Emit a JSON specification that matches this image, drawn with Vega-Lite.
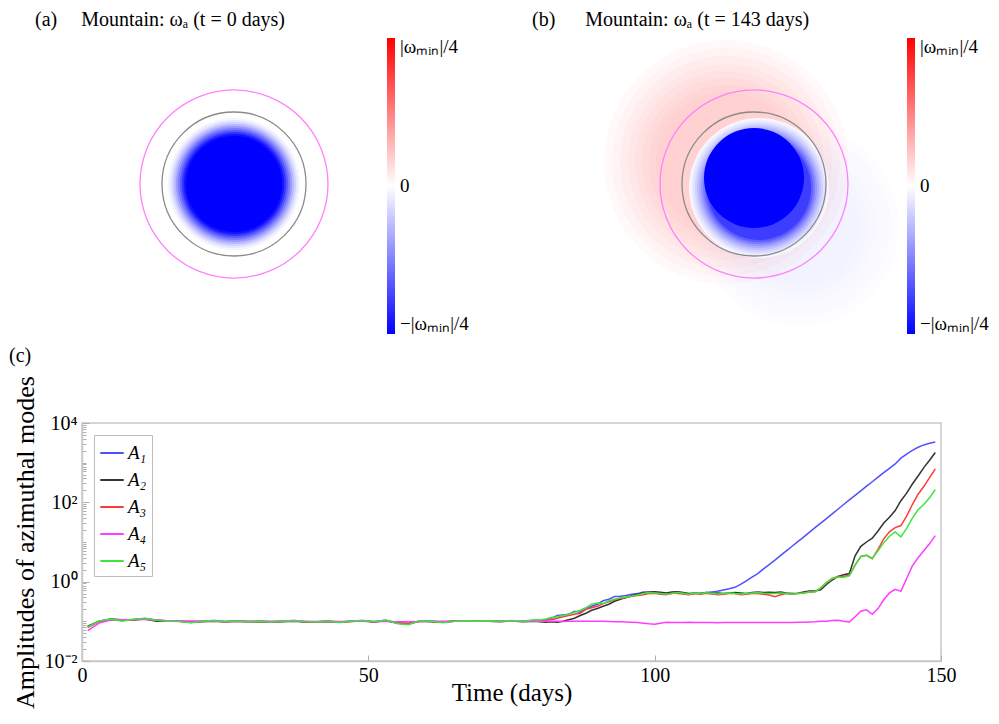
{
  "$schema": "https://vega.github.io/schema/vega-lite/v6.json",
  "background": "white",
  "padding": {"left": 8, "top": 10, "right": 5, "bottom": 5},
  "config": {
    "font": "Liberation Serif",
    "view": {"stroke": "#c8c8c8", "strokeWidth": 1.5},
    "title": {"fontSize": 20, "fontWeight": "normal", "anchor": "start", "frame": "group", "offset": 8, "color": "black", "font": "Liberation Serif"},
    "axis": {"labelFont": "Liberation Serif", "titleFont": "Liberation Serif", "labelColor": "black", "titleColor": "black", "domainColor": "#c8c8c8", "domainWidth": 1.5, "tickColor": "#b0b0b0", "grid": false, "titleFontWeight": "normal"},
    "legend": {"labelFont": "Liberation Serif", "labelColor": "black"}
  },
  "datasets": {
    "diskA": [
      {"x": 0, "y": 0, "r": 66, "vorticity": -0.04},
      {"x": 0, "y": 0, "r": 64, "vorticity": -0.1},
      {"x": 0, "y": 0, "r": 62, "vorticity": -0.18},
      {"x": 0, "y": 0, "r": 60, "vorticity": -0.28},
      {"x": 0, "y": 0, "r": 58, "vorticity": -0.4},
      {"x": 0, "y": 0, "r": 56, "vorticity": -0.52},
      {"x": 0, "y": 0, "r": 54, "vorticity": -0.65},
      {"x": 0, "y": 0, "r": 52, "vorticity": -0.8},
      {"x": 0, "y": 0, "r": 50, "vorticity": -0.93},
      {"x": 0, "y": 0, "r": 48, "vorticity": -1.0}
    ],
    "haloB": [
      {"x": -28, "y": 22, "r": 122, "vorticity": 0.8},
      {"x": -28, "y": 22, "r": 114, "vorticity": 0.8},
      {"x": -28, "y": 22, "r": 106, "vorticity": 0.8},
      {"x": -28, "y": 22, "r": 98, "vorticity": 0.8},
      {"x": -28, "y": 22, "r": 91, "vorticity": 0.8},
      {"x": -28, "y": 22, "r": 84, "vorticity": 0.8},
      {"x": -28, "y": 22, "r": 77, "vorticity": 0.8},
      {"x": -28, "y": 22, "r": 70, "vorticity": 0.8},
      {"x": 45, "y": -42, "r": 100, "vorticity": -0.35},
      {"x": 45, "y": -42, "r": 92, "vorticity": -0.35},
      {"x": 45, "y": -42, "r": 84, "vorticity": -0.35},
      {"x": 45, "y": -42, "r": 76, "vorticity": -0.35},
      {"x": 45, "y": -42, "r": 68, "vorticity": -0.35},
      {"x": 45, "y": -42, "r": 60, "vorticity": -0.35}
    ],
    "diskB": [
      {"x": 5, "y": -4, "r": 70, "vorticity": -0.03},
      {"x": 5, "y": -4, "r": 68, "vorticity": -0.07},
      {"x": 5, "y": -4, "r": 66, "vorticity": -0.12},
      {"x": 5, "y": -4, "r": 64, "vorticity": -0.18},
      {"x": 5, "y": -4, "r": 62, "vorticity": -0.25},
      {"x": 5, "y": -4, "r": 60, "vorticity": -0.33},
      {"x": 5, "y": -4, "r": 58, "vorticity": -0.42},
      {"x": 5, "y": -4, "r": 56, "vorticity": -0.52},
      {"x": 5, "y": -4, "r": 54, "vorticity": -0.63},
      {"x": 5, "y": -4, "r": 52, "vorticity": -0.76},
      {"x": 0, "y": 6, "r": 50, "vorticity": -1.0}
    ],
    "contours": [
      {"contour": "inner", "x": 0, "y": 0, "r": 72},
      {"contour": "outer", "x": 0, "y": 0, "r": 94}
    ],
    "modes": [
      {"t": 1, "A1": 0.072, "A2": 0.075, "A3": 0.07, "A4": 0.058, "A5": 0.072},
      {"t": 3, "A1": 0.1, "A2": 0.1, "A3": 0.098, "A4": 0.09, "A5": 0.102},
      {"t": 5, "A1": 0.112, "A2": 0.114, "A3": 0.11, "A4": 0.108, "A5": 0.115},
      {"t": 7, "A1": 0.108, "A2": 0.11, "A3": 0.107, "A4": 0.11, "A5": 0.1},
      {"t": 9, "A1": 0.112, "A2": 0.108, "A3": 0.11, "A4": 0.112, "A5": 0.113},
      {"t": 11, "A1": 0.118, "A2": 0.115, "A3": 0.116, "A4": 0.112, "A5": 0.12},
      {"t": 13, "A1": 0.108, "A2": 0.1, "A3": 0.106, "A4": 0.108, "A5": 0.107},
      {"t": 15, "A1": 0.102, "A2": 0.1, "A3": 0.102, "A4": 0.104, "A5": 0.101},
      {"t": 17, "A1": 0.1, "A2": 0.101, "A3": 0.1, "A4": 0.103, "A5": 0.099},
      {"t": 19, "A1": 0.094, "A2": 0.096, "A3": 0.095, "A4": 0.102, "A5": 0.092},
      {"t": 21, "A1": 0.1, "A2": 0.098, "A3": 0.1, "A4": 0.102, "A5": 0.099},
      {"t": 23, "A1": 0.103, "A2": 0.1, "A3": 0.102, "A4": 0.101, "A5": 0.106},
      {"t": 25, "A1": 0.098, "A2": 0.097, "A3": 0.098, "A4": 0.1, "A5": 0.097},
      {"t": 27, "A1": 0.102, "A2": 0.1, "A3": 0.101, "A4": 0.1, "A5": 0.104},
      {"t": 29, "A1": 0.097, "A2": 0.099, "A3": 0.098, "A4": 0.1, "A5": 0.096},
      {"t": 31, "A1": 0.1, "A2": 0.097, "A3": 0.1, "A4": 0.101, "A5": 0.101},
      {"t": 33, "A1": 0.097, "A2": 0.096, "A3": 0.097, "A4": 0.1, "A5": 0.095},
      {"t": 35, "A1": 0.1, "A2": 0.097, "A3": 0.1, "A4": 0.1, "A5": 0.101},
      {"t": 37, "A1": 0.104, "A2": 0.1, "A3": 0.103, "A4": 0.102, "A5": 0.106},
      {"t": 39, "A1": 0.098, "A2": 0.096, "A3": 0.098, "A4": 0.1, "A5": 0.097},
      {"t": 41, "A1": 0.097, "A2": 0.098, "A3": 0.097, "A4": 0.099, "A5": 0.096},
      {"t": 43, "A1": 0.1, "A2": 0.099, "A3": 0.1, "A4": 0.1, "A5": 0.101},
      {"t": 45, "A1": 0.095, "A2": 0.096, "A3": 0.096, "A4": 0.099, "A5": 0.094},
      {"t": 47, "A1": 0.1, "A2": 0.099, "A3": 0.1, "A4": 0.1, "A5": 0.101},
      {"t": 49, "A1": 0.104, "A2": 0.102, "A3": 0.103, "A4": 0.1, "A5": 0.106},
      {"t": 51, "A1": 0.098, "A2": 0.096, "A3": 0.098, "A4": 0.099, "A5": 0.097},
      {"t": 53, "A1": 0.106, "A2": 0.104, "A3": 0.105, "A4": 0.1, "A5": 0.108},
      {"t": 55, "A1": 0.09, "A2": 0.092, "A3": 0.092, "A4": 0.098, "A5": 0.088},
      {"t": 57, "A1": 0.085, "A2": 0.088, "A3": 0.088, "A4": 0.097, "A5": 0.082},
      {"t": 59, "A1": 0.102, "A2": 0.1, "A3": 0.101, "A4": 0.099, "A5": 0.104},
      {"t": 61, "A1": 0.1, "A2": 0.098, "A3": 0.1, "A4": 0.1, "A5": 0.1},
      {"t": 63, "A1": 0.095, "A2": 0.096, "A3": 0.095, "A4": 0.1, "A5": 0.092},
      {"t": 65, "A1": 0.1, "A2": 0.102, "A3": 0.1, "A4": 0.1, "A5": 0.101},
      {"t": 67, "A1": 0.104, "A2": 0.103, "A3": 0.103, "A4": 0.1, "A5": 0.104},
      {"t": 69, "A1": 0.1, "A2": 0.1, "A3": 0.1, "A4": 0.101, "A5": 0.102},
      {"t": 71, "A1": 0.102, "A2": 0.101, "A3": 0.102, "A4": 0.1, "A5": 0.104},
      {"t": 73, "A1": 0.1, "A2": 0.098, "A3": 0.1, "A4": 0.1, "A5": 0.101},
      {"t": 75, "A1": 0.104, "A2": 0.102, "A3": 0.104, "A4": 0.101, "A5": 0.105},
      {"t": 77, "A1": 0.1, "A2": 0.097, "A3": 0.1, "A4": 0.1, "A5": 0.102},
      {"t": 79, "A1": 0.106, "A2": 0.1, "A3": 0.104, "A4": 0.1, "A5": 0.108},
      {"t": 80, "A1": 0.105, "A2": 0.098, "A3": 0.103, "A4": 0.1, "A5": 0.108},
      {"t": 81, "A1": 0.11, "A2": 0.095, "A3": 0.106, "A4": 0.101, "A5": 0.115},
      {"t": 82, "A1": 0.12, "A2": 0.097, "A3": 0.11, "A4": 0.1, "A5": 0.125},
      {"t": 83, "A1": 0.14, "A2": 0.095, "A3": 0.12, "A4": 0.1, "A5": 0.13},
      {"t": 84, "A1": 0.145, "A2": 0.1, "A3": 0.13, "A4": 0.099, "A5": 0.14},
      {"t": 85, "A1": 0.15, "A2": 0.11, "A3": 0.14, "A4": 0.1, "A5": 0.15},
      {"t": 86, "A1": 0.18, "A2": 0.12, "A3": 0.15, "A4": 0.1, "A5": 0.17},
      {"t": 87, "A1": 0.17, "A2": 0.14, "A3": 0.16, "A4": 0.101, "A5": 0.19},
      {"t": 88, "A1": 0.21, "A2": 0.16, "A3": 0.2, "A4": 0.1, "A5": 0.22},
      {"t": 89, "A1": 0.24, "A2": 0.19, "A3": 0.22, "A4": 0.1, "A5": 0.27},
      {"t": 90, "A1": 0.27, "A2": 0.21, "A3": 0.24, "A4": 0.1, "A5": 0.29},
      {"t": 91, "A1": 0.33, "A2": 0.24, "A3": 0.28, "A4": 0.1, "A5": 0.28},
      {"t": 92, "A1": 0.36, "A2": 0.27, "A3": 0.31, "A4": 0.099, "A5": 0.33},
      {"t": 93, "A1": 0.42, "A2": 0.32, "A3": 0.35, "A4": 0.098, "A5": 0.36},
      {"t": 94, "A1": 0.43, "A2": 0.36, "A3": 0.38, "A4": 0.097, "A5": 0.39},
      {"t": 95, "A1": 0.45, "A2": 0.4, "A3": 0.4, "A4": 0.096, "A5": 0.41},
      {"t": 96, "A1": 0.48, "A2": 0.44, "A3": 0.43, "A4": 0.095, "A5": 0.43},
      {"t": 97, "A1": 0.5, "A2": 0.48, "A3": 0.45, "A4": 0.093, "A5": 0.46},
      {"t": 98, "A1": 0.55, "A2": 0.52, "A3": 0.47, "A4": 0.09, "A5": 0.5},
      {"t": 99, "A1": 0.54, "A2": 0.55, "A3": 0.5, "A4": 0.087, "A5": 0.53},
      {"t": 100, "A1": 0.52, "A2": 0.56, "A3": 0.51, "A4": 0.085, "A5": 0.52},
      {"t": 101, "A1": 0.5, "A2": 0.54, "A3": 0.48, "A4": 0.09, "A5": 0.5},
      {"t": 102, "A1": 0.48, "A2": 0.52, "A3": 0.47, "A4": 0.095, "A5": 0.48},
      {"t": 103, "A1": 0.5, "A2": 0.55, "A3": 0.52, "A4": 0.094, "A5": 0.5},
      {"t": 104, "A1": 0.55, "A2": 0.56, "A3": 0.5, "A4": 0.093, "A5": 0.53},
      {"t": 105, "A1": 0.5, "A2": 0.53, "A3": 0.49, "A4": 0.094, "A5": 0.51},
      {"t": 106, "A1": 0.48, "A2": 0.5, "A3": 0.47, "A4": 0.095, "A5": 0.48},
      {"t": 107, "A1": 0.5, "A2": 0.52, "A3": 0.5, "A4": 0.094, "A5": 0.52},
      {"t": 108, "A1": 0.51, "A2": 0.5, "A3": 0.48, "A4": 0.093, "A5": 0.5},
      {"t": 109, "A1": 0.53, "A2": 0.53, "A3": 0.51, "A4": 0.094, "A5": 0.53},
      {"t": 110, "A1": 0.55, "A2": 0.5, "A3": 0.49, "A4": 0.093, "A5": 0.5},
      {"t": 111, "A1": 0.57, "A2": 0.52, "A3": 0.47, "A4": 0.092, "A5": 0.49},
      {"t": 112, "A1": 0.62, "A2": 0.5, "A3": 0.48, "A4": 0.093, "A5": 0.5},
      {"t": 113, "A1": 0.66, "A2": 0.52, "A3": 0.5, "A4": 0.093, "A5": 0.52},
      {"t": 114, "A1": 0.72, "A2": 0.53, "A3": 0.5, "A4": 0.094, "A5": 0.5},
      {"t": 115, "A1": 0.85, "A2": 0.52, "A3": 0.47, "A4": 0.094, "A5": 0.49},
      {"t": 116, "A1": 1.05, "A2": 0.5, "A3": 0.48, "A4": 0.093, "A5": 0.5},
      {"t": 117, "A1": 1.3, "A2": 0.53, "A3": 0.5, "A4": 0.093, "A5": 0.52},
      {"t": 118, "A1": 1.6, "A2": 0.55, "A3": 0.5, "A4": 0.093, "A5": 0.53},
      {"t": 119, "A1": 2.1, "A2": 0.53, "A3": 0.48, "A4": 0.093, "A5": 0.51},
      {"t": 120, "A1": 2.7, "A2": 0.54, "A3": 0.46, "A4": 0.093, "A5": 0.5},
      {"t": 121, "A1": 3.5, "A2": 0.53, "A3": 0.42, "A4": 0.093, "A5": 0.5},
      {"t": 122, "A1": 4.6, "A2": 0.55, "A3": 0.47, "A4": 0.094, "A5": 0.52},
      {"t": 123, "A1": 6.0, "A2": 0.52, "A3": 0.5, "A4": 0.094, "A5": 0.5},
      {"t": 124, "A1": 7.8, "A2": 0.5, "A3": 0.48, "A4": 0.094, "A5": 0.48},
      {"t": 125, "A1": 10.2, "A2": 0.51, "A3": 0.5, "A4": 0.095, "A5": 0.5},
      {"t": 126, "A1": 13.3, "A2": 0.55, "A3": 0.52, "A4": 0.095, "A5": 0.52},
      {"t": 127, "A1": 17.5, "A2": 0.58, "A3": 0.55, "A4": 0.096, "A5": 0.55},
      {"t": 128, "A1": 23, "A2": 0.58, "A3": 0.56, "A4": 0.097, "A5": 0.56},
      {"t": 129, "A1": 30, "A2": 0.62, "A3": 0.7, "A4": 0.1, "A5": 0.7},
      {"t": 130, "A1": 39, "A2": 0.85, "A3": 0.95, "A4": 0.1, "A5": 0.95},
      {"t": 131, "A1": 51, "A2": 1.1, "A3": 1.2, "A4": 0.105, "A5": 1.2},
      {"t": 132, "A1": 67, "A2": 1.35, "A3": 1.35, "A4": 0.107, "A5": 1.3},
      {"t": 133, "A1": 88, "A2": 1.5, "A3": 1.35, "A4": 0.1, "A5": 1.3},
      {"t": 134, "A1": 115, "A2": 1.6, "A3": 1.45, "A4": 0.097, "A5": 1.4},
      {"t": 135, "A1": 150, "A2": 4.5, "A3": 2.6, "A4": 0.13, "A5": 2.6},
      {"t": 136, "A1": 195, "A2": 7.8, "A3": 4.3, "A4": 0.18, "A5": 4.3},
      {"t": 137, "A1": 255, "A2": 10, "A3": 4.6, "A4": 0.195, "A5": 4.6},
      {"t": 138, "A1": 330, "A2": 12.5, "A3": 3.8, "A4": 0.15, "A5": 3.9},
      {"t": 139, "A1": 430, "A2": 19, "A3": 6.5, "A4": 0.21, "A5": 6.0},
      {"t": 140, "A1": 560, "A2": 30, "A3": 12, "A4": 0.35, "A5": 9.5},
      {"t": 141, "A1": 720, "A2": 42, "A3": 18, "A4": 0.52, "A5": 14},
      {"t": 142, "A1": 930, "A2": 62, "A3": 23, "A4": 0.64, "A5": 18},
      {"t": 143, "A1": 1300, "A2": 110, "A3": 26, "A4": 0.57, "A5": 13.5},
      {"t": 144, "A1": 1650, "A2": 170, "A3": 45, "A4": 1.2, "A5": 22},
      {"t": 145, "A1": 2050, "A2": 290, "A3": 88, "A4": 2.5, "A5": 40},
      {"t": 146, "A1": 2450, "A2": 460, "A3": 160, "A4": 4.0, "A5": 65},
      {"t": 147, "A1": 2800, "A2": 750, "A3": 250, "A4": 6.0, "A5": 88},
      {"t": 148, "A1": 3100, "A2": 1150, "A3": 420, "A4": 9.0, "A5": 130},
      {"t": 149, "A1": 3300, "A2": 1800, "A3": 700, "A4": 14.5, "A5": 210}
    ]
  },
  "spacing": 10,
  "resolve": {"scale": {"color": "independent", "x": "independent", "y": "independent"}, "legend": {"color": "independent"}},
  "vconcat": [
    {
      "spacing": 220,
      "bounds": "flush",
      "resolve": {"scale": {"color": "independent", "size": "independent", "stroke": "independent"}, "legend": {"color": "independent"}},
      "hconcat": [
        {
          "width": 300,
          "height": 293,
          "view": {"stroke": null},
          "title": {"text": "(a)\u2003\u2009Mountain: ωₐ (t = 0 days)", "dx": -47},
          "layer": [
            {
              "data": {"name": "diskA"},
              "mark": {"type": "point", "shape": "circle", "filled": true, "opacity": 1},
              "encoding": {
                "x": {"field": "x", "type": "quantitative", "scale": {"domain": [-152, 148], "nice": false, "zero": false}, "axis": null},
                "y": {"field": "y", "type": "quantitative", "scale": {"domain": [-147, 146], "nice": false, "zero": false}, "axis": null},
                "size": {"field": "r", "type": "quantitative", "scale": {"type": "pow", "exponent": 2, "domain": [0, 100], "range": [0, 40000]}, "legend": null},
                "color": {"field": "vorticity", "type": "quantitative", "scale": {"domain": [-1, 0, 1], "range": ["#0000ff", "#ffffff", "#ff0000"], "interpolate": "rgb"},
                  "legend": {"orient": "right", "offset": 5, "title": null, "direction": "vertical", "gradientLength": 296, "gradientThickness": 8, "gradientStrokeWidth": 0, "values": [-1, 0, 1], "labelFontSize": 19, "labelBaseline": "middle", "labelOffset": 5,
                    "encode": {"labels": {"update": {"baseline": {"value": "middle"}}}},
                    "labelExpr": "datum.value > 0.5 ? '|ωₘᵢₙ|/4' : datum.value < -0.5 ? '−|ωₘᵢₙ|/4' : '0'"}}
              }
            },
            {
              "data": {"name": "contours"},
              "mark": {"type": "point", "shape": "circle", "filled": false, "opacity": 1, "strokeWidth": 1.3},
              "encoding": {
                "x": {"field": "x", "type": "quantitative"},
                "y": {"field": "y", "type": "quantitative"},
                "size": {"field": "r", "type": "quantitative", "scale": {"type": "pow", "exponent": 2, "domain": [0, 100], "range": [0, 40000]}, "legend": null},
                "stroke": {"field": "contour", "type": "nominal", "scale": {"domain": ["inner", "outer"], "range": ["#8a8a8a", "#ff80ff"]}, "legend": null}
              }
            }
          ]
        },
        {
          "width": 300,
          "height": 293,
          "view": {"stroke": null},
          "title": {"text": "(b)\u2003\u2002Mountain: ωₐ (t = 143 days)", "dx": -70},
          "layer": [
            {
              "data": {"name": "haloB"},
              "mark": {"type": "point", "shape": "circle", "filled": true, "opacity": 1, "fillOpacity": 0.028},
              "encoding": {
                "x": {"field": "x", "type": "quantitative", "scale": {"domain": [-152, 148], "nice": false, "zero": false}, "axis": null},
                "y": {"field": "y", "type": "quantitative", "scale": {"domain": [-147, 146], "nice": false, "zero": false}, "axis": null},
                "size": {"field": "r", "type": "quantitative", "scale": {"type": "pow", "exponent": 2, "domain": [0, 100], "range": [0, 40000]}, "legend": null},
                "color": {"field": "vorticity", "type": "quantitative", "scale": {"domain": [-1, 0, 1], "range": ["#0000ff", "#ffffff", "#ff0000"], "interpolate": "rgb"},
                  "legend": {"orient": "right", "offset": 5, "title": null, "direction": "vertical", "gradientLength": 296, "gradientThickness": 8, "gradientStrokeWidth": 0, "values": [-1, 0, 1], "labelFontSize": 19, "labelBaseline": "middle", "labelOffset": 5,
                    "encode": {"labels": {"update": {"baseline": {"value": "middle"}}}, "gradient": {"update": {"opacity": {"value": 1}}}},
                    "labelExpr": "datum.value > 0.5 ? '|ωₘᵢₙ|/4' : datum.value < -0.5 ? '−|ωₘᵢₙ|/4' : '0'"}}
              }
            },
            {
              "data": {"name": "diskB"},
              "mark": {"type": "point", "shape": "circle", "filled": true, "opacity": 1},
              "encoding": {
                "x": {"field": "x", "type": "quantitative"},
                "y": {"field": "y", "type": "quantitative"},
                "size": {"field": "r", "type": "quantitative", "scale": {"type": "pow", "exponent": 2, "domain": [0, 100], "range": [0, 40000]}, "legend": null},
                "color": {"field": "vorticity", "type": "quantitative"}
              }
            },
            {
              "data": {"name": "contours"},
              "mark": {"type": "point", "shape": "circle", "filled": false, "opacity": 1, "strokeWidth": 1.3},
              "encoding": {
                "x": {"field": "x", "type": "quantitative"},
                "y": {"field": "y", "type": "quantitative"},
                "size": {"field": "r", "type": "quantitative", "scale": {"type": "pow", "exponent": 2, "domain": [0, 100], "range": [0, 40000]}, "legend": null},
                "stroke": {"field": "contour", "type": "nominal", "scale": {"domain": ["inner", "outer"], "range": ["#8a8a8a", "#ff80ff"]}, "legend": null}
              }
            }
          ]
        }
      ]
    },
    {
      "width": 859,
      "height": 238,
      "title": {"text": "(c)", "dx": -73, "offset": 10},
      "data": {"name": "modes"},
      "transform": [{"fold": ["A1", "A2", "A3", "A4", "A5"], "as": ["mode", "amplitude"]}],
      "mark": {"type": "line", "strokeWidth": 1.5},
      "encoding": {
        "x": {"field": "t", "type": "quantitative", "scale": {"domain": [0, 150], "nice": false},
          "axis": {"title": "Time (days)", "values": [0, 50, 100, 150], "labelFontSize": 20, "titleFontSize": 25, "tickSize": -6, "labelPadding": 10, "titlePadding": -5, "labelFlush": false}},
        "y": {"field": "amplitude", "type": "quantitative", "scale": {"type": "log", "domain": [0.01, 10000], "nice": false},
          "axis": {"title": "Amplitudes of azimuthal modes", "titleFontSize": 26, "labelFontSize": 20, "labelPadding": 12, "titlePadding": 6,
            "values": [0.01, 0.02, 0.03, 0.04, 0.05, 0.06, 0.07, 0.08, 0.09, 0.1, 0.2, 0.3, 0.4, 0.5, 0.6, 0.7, 0.8, 0.9, 1, 2, 3, 4, 5, 6, 7, 8, 9, 10, 20, 30, 40, 50, 60, 70, 80, 90, 100, 200, 300, 400, 500, 600, 700, 800, 900, 1000, 2000, 3000, 4000, 5000, 6000, 7000, 8000, 9000, 10000],
            "tickSize": {"condition": {"test": "datum.value == 0.01 || datum.value == 1 || datum.value == 100 || datum.value == 10000", "value": -7}, "value": -4},
            "labelExpr": "datum.value == 10000 ? '10⁴' : datum.value == 100 ? '10²' : datum.value == 1 ? '10⁰' : datum.value == 0.01 ? '10⁻²' : ''",
            "labelFlush": false}},
        "color": {"field": "mode", "type": "nominal",
          "scale": {"domain": ["A1", "A2", "A3", "A4", "A5"], "range": ["#5050ff", "#333333", "#ff3a3a", "#ff3cff", "#3ce63c"]},
          "legend": {"orient": "top-left", "offset": 12, "title": null, "symbolType": "stroke", "symbolStrokeWidth": 2, "symbolSize": 550, "labelFontSize": 19, "labelFontStyle": "italic", "rowPadding": 4, "labelOffset": 3, "padding": 5, "strokeColor": "#bdbdbd", "fillColor": "white",
            "labelExpr": "'A' + (datum.label == 'A1' ? '₁' : datum.label == 'A2' ? '₂' : datum.label == 'A3' ? '₃' : datum.label == 'A4' ? '₄' : '₅')"}}
      }
    }
  ]
}
